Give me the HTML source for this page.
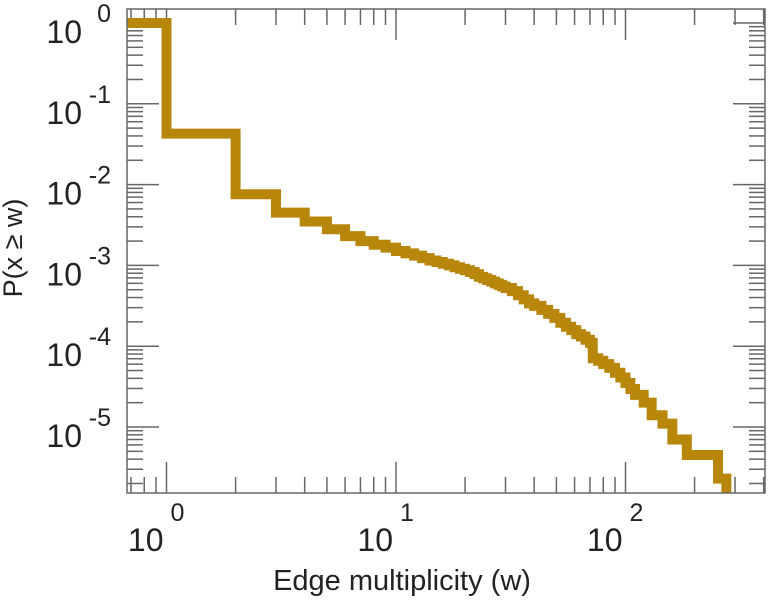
<!DOCTYPE html>
<html><head><meta charset="utf-8"><style>
html,body{margin:0;padding:0;background:#fff;}
svg{display:block;font-family:"Liberation Sans",sans-serif;}
</style></head><body>
<svg id="chart" width="768" height="600" viewBox="0 0 768 600" xmlns="http://www.w3.org/2000/svg">
<defs><clipPath id="plotclip"><rect x="127" y="9" width="638" height="484"/></clipPath></defs>
<g id="grid"></g>
<g id="series" clip-path="url(#plotclip)"></g>
<rect x="127" y="9" width="638" height="484" fill="none" stroke="#666" stroke-width="1.5"/>
<g id="labels" fill="#222"></g>
<text x="402" y="590" font-size="29" text-anchor="middle" fill="#222">Edge multiplicity (w)</text>
<text transform="translate(22,248) rotate(-90)" font-size="27" text-anchor="middle" fill="#222">P(x ≥ w)</text>
</svg>
<script>
const xTickExps = [0, 1, 2];
const yTickExps = [0, -1, -2, -3, -4, -5];
const stepW = [1,2,3,4,5,6,7,8,9,10,11,12,13,14,15,16,17,18,19,20,21,22,23,24,25,26,27,28,29,30,32,34,36,38,40,43,46,49,52,55,58,61,64,67,70,72,76,80,85,90,95,100,105,110,120,130,145,160,185,253,275];
const stepP = [0.0427,0.0076,0.0045,0.0035,0.0028,0.0023,0.002,0.0018,0.00166,1.51e-3,1.41e-3,1.32e-3,1.23e-3,1.15e-3,1.10e-3,1.05e-3,1.0e-3,9.5e-4,9.1e-4,8.7e-4,8.3e-4,7.8e-4,7.2e-4,6.9e-4,6.6e-4,6.3e-4,6.0e-4,5.75e-4,5.5e-4,5.25e-4,4.8e-4,4.27e-4,3.8e-4,3.39e-4,3.16e-4,2.82e-4,2.51e-4,2.24e-4,1.95e-4,1.74e-4,1.58e-4,1.41e-4,1.32e-4,1.2e-4,1.1e-4,7.1e-5,6.6e-5,6.0e-5,5.4e-5,4.7e-5,4.1e-5,3.5e-5,2.95e-5,2.5e-5,2.0e-5,1.4e-5,1.1e-5,7e-6,4.5e-6,2.3e-6,1e-7];
const startP = 1;

const NS = "http://www.w3.org/2000/svg";
const X0 = 166.5, XD = 229.5, Y0 = 23, YD = 80.8;
const L = 127, R = 765, T = 9, B = 493;
function sx(v){ return X0 + Math.log10(v) * XD; }
function sy(v){ return Y0 - Math.log10(v) * YD; }
function mk(tag, attrs, parent){ const e = document.createElementNS(NS, tag); for (const k in attrs) e.setAttribute(k, attrs[k]); parent.appendChild(e); return e; }

const grid = document.getElementById('grid');
const labels = document.getElementById('labels');
for (let e = -1; e <= 2; e++) {
  for (let m = 1; m <= 9; m++) {
    const v = m * Math.pow(10, e);
    const x = sx(v);
    if (x < L || x > R) continue;
    const len = m === 1 ? 31 : 16;
    const t1 = mk('line', {x1:x, x2:x, y1:B, y2:B-len, stroke:'#666', 'stroke-width':1.5}, grid);
    
    
    const t2 = mk('line', {x1:x, x2:x, y1:T, y2:T+len, stroke:'#666', 'stroke-width':1.5}, grid);
    
    
  }
}
for (let e = -6; e <= 0; e++) {
  for (let m = 1; m <= 9; m++) {
    const v = m * Math.pow(10, e);
    const y = sy(v);
    if (y < T || y > B) continue;
    const len = m === 1 ? 32 : 16;
    const t1 = mk('line', {x1:L, x2:L+len, y1:y, y2:y, stroke:'#666', 'stroke-width':1.5}, grid);
    
    
    const t2 = mk('line', {x1:R, x2:R-len, y1:y, y2:y, stroke:'#666', 'stroke-width':1.5}, grid);
    
    
  }
}
xTickExps.forEach(e => {
  const x = sx(Math.pow(10, e));
  const a = mk('text', {x:x-3, y:551, 'font-size':32, 'text-anchor':'end'}, labels);
  a.textContent = '10';
  
  
  const b = mk('text', {x:x+4, y:521, 'font-size':25}, labels);
  b.textContent = String(e);
  
  
});
yTickExps.forEach(e => {
  const y = sy(Math.pow(10, e));
  const a = mk('text', {x:82, y:y+20, 'font-size':32, 'text-anchor':'end'}, labels);
  a.textContent = '10';
  
  
  const b = mk('text', {x:111, y:y-1, 'font-size':25, 'text-anchor':'end'}, labels);
  b.textContent = String(e);
  
  
});
let d = 'M' + (L - 10) + ',' + sy(startP);
let prev = startP;
for (let i = 0; i < stepW.length; i++) {
  const x = sx(stepW[i]);
  d += ' L' + x + ',' + sy(prev) + ' L' + x + ',' + sy(stepP[i]);
  prev = stepP[i];
}
const path = mk('path', {d:d, fill:'none', stroke:'#b8860b', 'stroke-width':10, 'stroke-linejoin':'miter'}, document.getElementById('series'));


</script>
</body></html>
